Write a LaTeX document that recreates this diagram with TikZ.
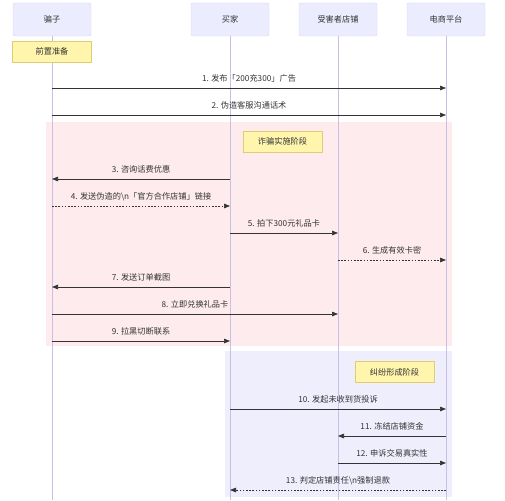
\documentclass[tikz,border=0pt]{standalone}
\usepackage{fontspec}
\setmainfont{Noto Sans CJK SC}
\usetikzlibrary{arrows.meta,positioning}
\definecolor{actorfill}{RGB}{236,236,255}
\definecolor{actorline}{RGB}{214,208,240}
\definecolor{lifeline}{RGB}{200,192,228}
\definecolor{notefill}{RGB}{255,245,173}
\definecolor{noteline}{RGB}{222,206,112}
\definecolor{lightpink}{RGB}{253,235,238}
\definecolor{lightviolet}{RGB}{238,238,253}
\definecolor{textgray}{RGB}{51,51,51}

\begin{document}
\begin{tikzpicture}[x=1pt,y=-1pt,>={Triangle[length=6pt,width=4.5pt]},
  every node/.style={font=\fontsize{8.2}{10}\selectfont,text=textgray},
  actor/.style={draw=actorline,fill=actorfill,rounded corners=2pt,minimum width=78pt,minimum height=33pt},
  note/.style={draw=noteline,fill=notefill,minimum width=79pt,minimum height=21pt,inner sep=1pt},
  life/.style={draw=lifeline,line width=0.6pt},
  msg/.style={->,draw=textgray,line width=0.7pt},
  reply/.style={msg,dash pattern=on 1.6pt off 1.6pt},
  lbl/.style={midway,above=5pt,inner sep=0pt}]
\useasboundingbox (0,0) rectangle (505,500);
% phase backgrounds
\fill[lightpink] (46,122) rectangle (452,346);
\fill[lightviolet] (225,351) rectangle (452,497);
% participants
\node[actor] (scam) at (52,19.5) {骗子};
\node[actor] (buyer) at (230,19.5) {买家};
\node[actor] (shop) at (338,19.5) {受害者店铺};
\node[actor] (plat) at (446,19.5) {电商平台};
\coordinate (bottom) at (0,500);
\draw[life] (scam) -- (scam |- bottom);
\draw[life] (buyer) -- (buyer |- bottom);
\draw[life] (shop) -- (shop |- bottom);
\draw[life] (plat) -- (plat |- bottom);
% notes
\node[note] (prep) at (52,51.5) {前置准备};
\node[note] (fraud) at (282.5,141.5) {诈骗实施阶段};
\node[note] (dispute) at (394.5,372) {纠纷形成阶段};
% messages
\coordinate (m1) at (0,88);
\coordinate (m2) at (0,115);
\coordinate (m3) at (0,179);
\coordinate (m4) at (0,206);
\coordinate (m5) at (0,233);
\coordinate (m6) at (0,260);
\coordinate (m7) at (0,287);
\coordinate (m8) at (0,314);
\coordinate (m9) at (0,341);
\coordinate (m10) at (0,409);
\coordinate (m11) at (0,436);
\coordinate (m12) at (0,463);
\coordinate (m13) at (0,490);
\draw[msg] (scam |- m1) -- (plat |- m1) node[lbl] {1. 发布「200充300」广告};
\draw[msg] (scam |- m2) -- (plat |- m2) node[lbl] {2. 伪造客服沟通话术};
\draw[msg] (buyer |- m3) -- (scam |- m3) node[lbl] {3. 咨询话费优惠};
\draw[reply] (scam |- m4) -- (buyer |- m4) node[lbl] {4. 发送伪造的\textbackslash n「官方合作店铺」链接};
\draw[msg] (buyer |- m5) -- (shop |- m5) node[lbl] {5. 拍下300元礼品卡};
\draw[reply] (shop |- m6) -- (plat |- m6) node[lbl] {6. 生成有效卡密};
\draw[msg] (buyer |- m7) -- (scam |- m7) node[lbl] {7. 发送订单截图};
\draw[msg] (scam |- m8) -- (shop |- m8) node[lbl] {8. 立即兑换礼品卡};
\draw[msg] (scam |- m9) -- (buyer |- m9) node[lbl] {9. 拉黑切断联系};
\draw[msg] (buyer |- m10) -- (plat |- m10) node[lbl] {10. 发起未收到货投诉};
\draw[msg] (plat |- m11) -- (shop |- m11) node[lbl] {11. 冻结店铺资金};
\draw[msg] (shop |- m12) -- (plat |- m12) node[lbl] {12. 申诉交易真实性};
\draw[reply] (plat |- m13) -- (buyer |- m13) node[lbl] {13. 判定店铺责任\textbackslash n强制退款};
\end{tikzpicture}
\end{document}
